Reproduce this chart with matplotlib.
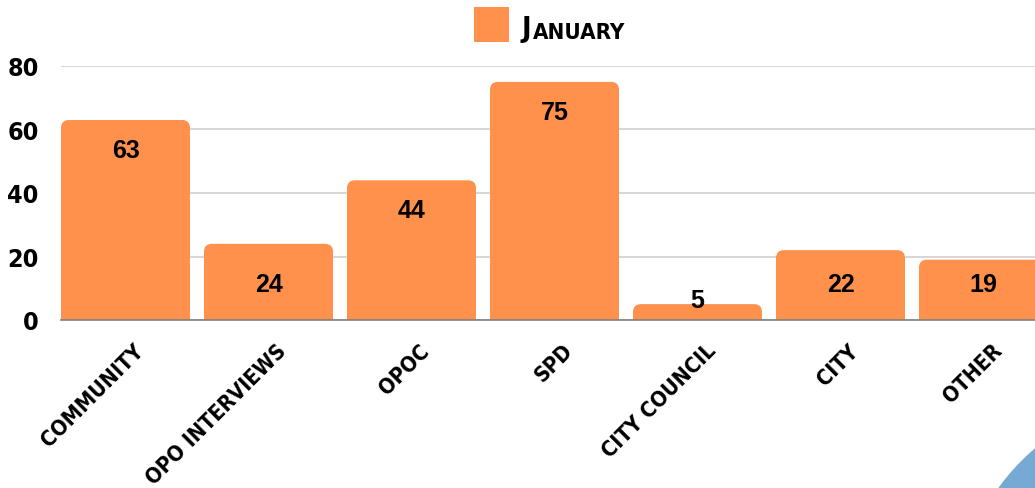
import matplotlib
matplotlib.use("Agg")
import matplotlib.pyplot as plt
import matplotlib.font_manager as fm
from matplotlib.patches import FancyBboxPatch, Rectangle, Ellipse
from matplotlib.transforms import ScaledTranslation

categories = ["COMMUNITY", "OPO INTERVIEWS", "OPOC", "SPD", "CITY COUNCIL", "CITY", "OTHER"]
values = [63, 24, 44, 75, 5, 22, 19]
series_name = "January"
yticks = [0, 20, 40, 60, 80]

BAR = "#FF914D"

# find a bold condensed font if any is installed
cond_file = None
best = None
for f in fm.fontManager.ttflist:
    fn = f.fname.lower()
    is_cond = ("condensed" in fn or "narrow" in fn or
               str(f.stretch) in ("condensed", "semi-condensed", "extra-condensed"))
    if not is_cond:
        continue
    w = f.weight if isinstance(f.weight, int) else (700 if "bold" in str(f.weight) else 400)
    italic = f.style != "normal"
    score = (0 if italic else 10) + (5 if w >= 700 else 0) + (1 if "dejavu" in fn or "roboto" in fn else 0)
    if best is None or score > best[0]:
        best = (score, f.fname)
if best is not None:
    cond_file = best[1]


def cfont(size):
    if cond_file:
        return fm.FontProperties(fname=cond_file, size=size)
    return fm.FontProperties(family="DejaVu Sans", weight="bold", size=size * 0.85)


LAB = dict(family=["Liberation Sans", "DejaVu Sans"], weight="bold")

W, H = 1035, 489
fig = plt.figure(figsize=(W / 100, H / 100), dpi=100)
ax = fig.add_axes([61 / W, (H - 321) / H, (1035 - 61) / W, (321 - 67) / H])

n = len(categories)
bw = 129 / 143
x = list(range(n))
bars = ax.bar(x, values, width=bw, color=BAR, zorder=2)
ax.set_xlim(-bw / 2, -bw / 2 + (1035 - 61) / 143)
ax.set_ylim(0, 80)

# rounded tops
fig.canvas.draw()
px_per_x = ax.transData.transform((1, 0))[0] - ax.transData.transform((0, 0))[0]
px_per_y = ax.transData.transform((0, 1))[1] - ax.transData.transform((0, 0))[1]
r_px = 8
for b in bars:
    bx, bwid, bh = b.get_x(), b.get_width(), b.get_height()
    b.set_visible(False)
    rs = r_px / px_per_x
    p = FancyBboxPatch((bx, -20), bwid, bh + 20,
                       boxstyle=f"round,pad=0,rounding_size={rs}",
                       mutation_aspect=px_per_x / px_per_y,
                       facecolor=BAR, edgecolor="none", zorder=2)
    ax.add_patch(p)

ax.set_yticks(yticks)
ax.set_yticklabels([str(t) for t in yticks])
for lab in ax.get_yticklabels():
    lab.set_fontproperties(cfont(18))
ax.yaxis.grid(True, color="#d0d0d0", linewidth=1.2, zorder=0)
ax.tick_params(axis="y", length=0, pad=16)
for s in ["top", "right", "left"]:
    ax.spines[s].set_visible(False)
ax.spines["bottom"].set_color("#808080")
ax.spines["bottom"].set_linewidth(1.2)
ax.spines["bottom"].set_zorder(3)

ax.set_xticks(x)
ax.set_xticklabels(categories, rotation=45, ha="right", va="center",
                   rotation_mode="anchor")
ax.tick_params(axis="x", length=0, pad=0)
off = ScaledTranslation(15 / 100, -27 / 100, fig.dpi_scale_trans)
for lab in ax.get_xticklabels():
    lab.set_fontproperties(cfont(15.5))
    lab.set_transform(lab.get_transform() + off)

# value labels
for xi, v in zip(x, values):
    if v >= 30:
        yl = v - 9.5
    elif v > 11.3:
        yl = 11.3
    else:
        yl = v + 1.3
    ax.text(xi, yl, str(v), ha="center", va="center", fontsize=18,
            color="black", zorder=4, **LAB)

# legend
fig.patches.append(Rectangle((474 / W, (H - 43) / H), 35 / W, 35 / H,
                             transform=fig.transFigure, facecolor=BAR,
                             edgecolor="none"))
tJ = fig.text(522 / W, (H - 37) / H, series_name[0].upper(),
              va="baseline", ha="left", fontproperties=cfont(21))
ax.annotate(series_name[1:].upper(), xy=(1, 0), xycoords=tJ,
            xytext=(1, 0), textcoords="offset points",
            va="bottom", ha="left", annotation_clip=False,
            fontproperties=cfont(16))

# decorative blue circle
fig.patches.append(Ellipse((1180 / W, (H - 620) / H), 2 * 224 / W, 2 * 224 / H,
                           transform=fig.transFigure, facecolor="#76A9D3",
                           edgecolor="none"))

fig.savefig("out.png", dpi=100)
